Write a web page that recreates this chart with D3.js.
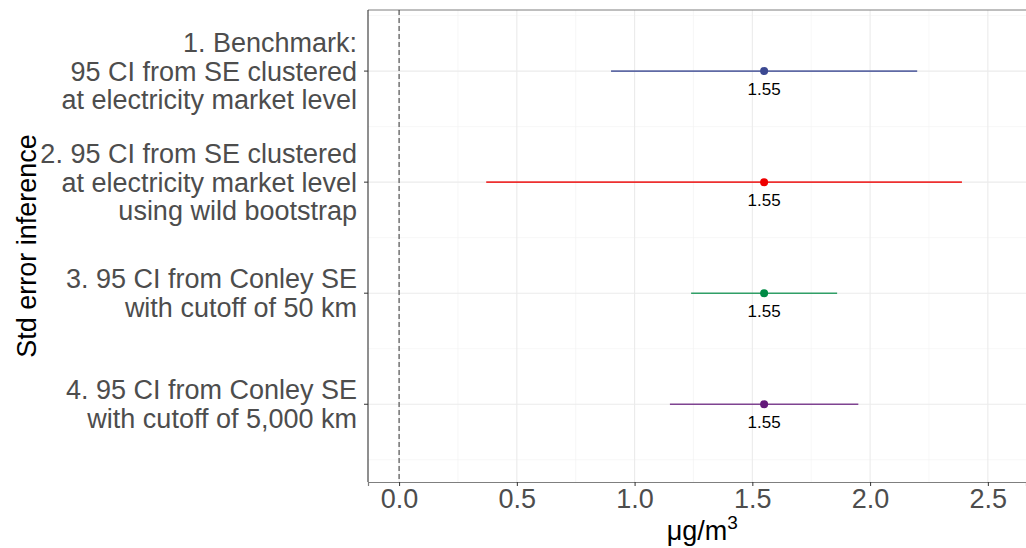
<!DOCTYPE html>
<html>
<head>
<meta charset="utf-8">
<script src="https://cdn.jsdelivr.net/npm/d3@7"></script>
<style>
  body { margin: 0; background: #fff; }
  text { font-family: "Liberation Sans", Arial, sans-serif; }
</style>
</head>
<body>
<div id="chart"></div>
<script>
// data
var labels = [
  ["1. Benchmark:", "95 CI from SE clustered", "at electricity market level"],
  ["2. 95 CI from SE clustered", "at electricity market level", "using wild bootstrap"],
  ["3. 95 CI from Conley SE", "with cutoff of 50 km"],
  ["4. 95 CI from Conley SE", "with cutoff of 5,000 km"]
];
var estimates = [1.55, 1.55, 1.55, 1.55];
var lower = [0.90, 0.37, 1.24, 1.15];
var upper = [2.20, 2.39, 1.86, 1.95];
var colors = ["#3B4992", "#EE0000", "#008B45", "#631879"];
var xTicks = [0.0, 0.5, 1.0, 1.5, 2.0, 2.5];
var xMinor = [0.25, 0.75, 1.25, 1.75, 2.25];

var svgWidth = 1026;
var svgHeight = 548;
var margin = { top: 10, right: 0, bottom: 66, left: 368 };
var width = svgWidth - margin.left - margin.right;
var height = svgHeight - margin.top - margin.bottom;

var svg = d3.select("#chart")
  .append("svg")
  .attr("width", svgWidth)
  .attr("height", svgHeight);

var chartGroup = svg.append("g")
  .attr("transform", `translate(${margin.left}, ${margin.top})`);

// scales
var xScale = d3.scaleLinear()
  .domain([-0.132, 2.662])
  .range([0, width]);

// row i sits at numeric position (n - i), top row highest
var n = labels.length;
var yScale = d3.scaleLinear()
  .domain([0.30, 4.55])
  .range([height, 0]);
var rowY = i => yScale(n - i);

// grid lines
var grid = chartGroup.append("g");
grid.selectAll(".xminor")
  .data(xMinor)
  .enter()
  .append("line")
  .attr("x1", d => xScale(d)).attr("x2", d => xScale(d))
  .attr("y1", 0).attr("y2", height)
  .attr("stroke", "#F2F2F2").attr("stroke-width", 0.6);
grid.selectAll(".yminor")
  .data([0.5, 1.5, 2.5, 3.5, 4.5])
  .enter()
  .append("line")
  .attr("x1", 0).attr("x2", width)
  .attr("y1", d => yScale(d)).attr("y2", d => yScale(d))
  .attr("stroke", "#F2F2F2").attr("stroke-width", 0.6);
grid.selectAll(".xmajor")
  .data(xTicks)
  .enter()
  .append("line")
  .attr("x1", d => xScale(d)).attr("x2", d => xScale(d))
  .attr("y1", 0).attr("y2", height)
  .attr("stroke", "#EBEBEB").attr("stroke-width", 1.1);
grid.selectAll(".ymajor")
  .data(labels)
  .enter()
  .append("line")
  .attr("x1", 0).attr("x2", width)
  .attr("y1", (d, i) => rowY(i)).attr("y2", (d, i) => rowY(i))
  .attr("stroke", "#EBEBEB").attr("stroke-width", 1.1);

// top border
chartGroup.append("line")
  .attr("x1", 0).attr("x2", width)
  .attr("y1", 0).attr("y2", 0)
  .attr("stroke", "#7F7F7F").attr("stroke-width", 1);

// zero reference line
chartGroup.append("line")
  .attr("x1", xScale(0)).attr("x2", xScale(0))
  .attr("y1", 0).attr("y2", height)
  .attr("stroke", "#333")
  .attr("stroke-width", 1)
  .attr("stroke-dasharray", "5,3");

// confidence intervals
chartGroup.selectAll(".ci")
  .data(estimates)
  .enter()
  .append("line")
  .attr("x1", (d, i) => xScale(lower[i]))
  .attr("x2", (d, i) => xScale(upper[i]))
  .attr("y1", (d, i) => rowY(i))
  .attr("y2", (d, i) => rowY(i))
  .attr("stroke", (d, i) => colors[i])
  .attr("stroke-opacity", 0.8)
  .attr("stroke-width", 1.6);

// point estimates
chartGroup.selectAll("circle")
  .data(estimates)
  .enter()
  .append("circle")
  .attr("cx", d => xScale(d))
  .attr("cy", (d, i) => rowY(i))
  .attr("r", 4)
  .attr("fill", (d, i) => colors[i]);

// value labels
chartGroup.selectAll(".val")
  .data(estimates)
  .enter()
  .append("text")
  .attr("x", d => xScale(d))
  .attr("y", (d, i) => rowY(i) + 24)
  .attr("text-anchor", "middle")
  .attr("font-size", "17px")
  .attr("fill", "#000")
  .text(d => d.toFixed(2));

// x axis
var bottomAxis = d3.axisBottom(xScale)
  .tickValues(xTicks)
  .tickFormat(d3.format(".1f"))
  .tickSize(4)
  .tickPadding(3);
var xAxis = chartGroup.append("g")
  .attr("transform", `translate(0, ${height})`)
  .call(bottomAxis);
xAxis.select(".domain").attr("stroke", "#7F7F7F").attr("stroke-width", 1.2);
xAxis.selectAll(".tick line").attr("stroke", "#333");
xAxis.selectAll(".tick text")
  .attr("font-size", "27px")
  .attr("fill", "#4D4D4D")
  .attr("font-family", "Liberation Sans, Arial, sans-serif");

// y axis line and ticks
chartGroup.append("line")
  .attr("x1", 0).attr("x2", 0)
  .attr("y1", 0).attr("y2", height)
  .attr("stroke", "#333").attr("stroke-width", 1.1);
chartGroup.selectAll(".ytick")
  .data(labels)
  .enter()
  .append("line")
  .attr("x1", -4).attr("x2", 0)
  .attr("y1", (d, i) => rowY(i)).attr("y2", (d, i) => rowY(i))
  .attr("stroke", "#333");

// y tick labels (multi-line)
var lineH = 28.5;
var yLabels = chartGroup.selectAll(".ylab")
  .data(labels)
  .enter()
  .append("text")
  .attr("text-anchor", "end")
  .attr("font-size", "27px")
  .attr("fill", "#4D4D4D")
  .attr("transform", (d, i) => `translate(-11, ${rowY(i) - (d.length - 1) * lineH / 2})`);
yLabels.selectAll("tspan")
  .data(d => d)
  .enter()
  .append("tspan")
  .attr("x", 0)
  .attr("y", (d, j) => j * lineH)
  .attr("dy", "0.35em")
  .text(d => d);

// axis titles
svg.append("text")
  .attr("transform", "rotate(-90)")
  .attr("x", -(margin.top + height / 2))
  .attr("y", 36)
  .attr("text-anchor", "middle")
  .attr("font-size", "27px")
  .attr("fill", "#000")
  .text("Std error inference");

var xTitle = svg.append("text")
  .attr("x", margin.left + xScale(1.5) - 50)
  .attr("y", 540)
  .attr("text-anchor", "middle")
  .attr("font-size", "27px")
  .attr("fill", "#000");
xTitle.append("tspan").text("\u03BCg/m");
xTitle.append("tspan").attr("dy", "-11").attr("font-size", "19px").text("3");
</script>
</body>
</html>
